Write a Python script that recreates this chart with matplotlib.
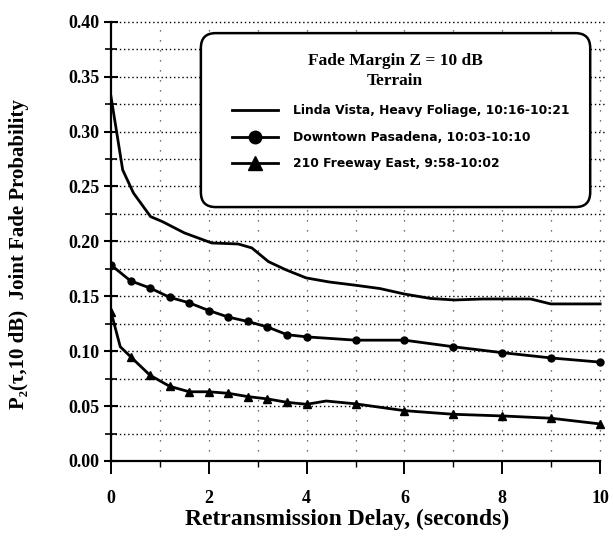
import matplotlib
matplotlib.use("Agg")
import matplotlib.pyplot as plt
from matplotlib.patches import FancyBboxPatch
from matplotlib.ticker import MultipleLocator, FixedLocator

# retransmission delay (s) vs joint fade probability, fade margin 10 dB
linda_x = [0.0, 0.24, 0.46, 0.81, 1.05, 1.5, 2.06, 2.6, 2.88, 3.22, 3.58, 3.99,
           4.46, 5.0, 5.5, 6.0, 6.53, 7.02, 7.6, 8.58, 8.99, 10.0]
linda_y = [0.332, 0.265, 0.244, 0.2225, 0.218, 0.2077, 0.1985, 0.1976, 0.194,
           0.1815, 0.174, 0.1667, 0.163, 0.160, 0.157, 0.152, 0.148, 0.1466,
           0.1475, 0.1475, 0.143, 0.143]

pasadena_x = [0.0, 0.4, 0.8, 1.2, 1.6, 2.0, 2.4, 2.8, 3.2, 3.6, 4.0,
              5.0, 6.0, 7.0, 8.0, 9.0, 10.0]
pasadena_y = [0.1785, 0.164, 0.1575, 0.149, 0.144, 0.137, 0.131, 0.127, 0.122,
              0.115, 0.113, 0.110, 0.110, 0.104, 0.0986, 0.0938, 0.090]

freeway_x = [0.0, 0.19, 0.4, 0.8, 1.2, 1.6, 2.0, 2.4, 2.8, 3.2, 3.6, 4.0,
             4.4, 5.0, 6.0, 7.0, 8.0, 9.0, 10.0]
freeway_y = [0.136, 0.104, 0.095, 0.078, 0.068, 0.063, 0.063, 0.0616, 0.0586,
             0.0565, 0.0534, 0.0516, 0.0546, 0.052, 0.0458, 0.0425, 0.041,
             0.0389, 0.0337]
freeway_marks = [0, 2, 3, 4, 5, 6, 7, 8, 9, 10, 11, 13, 14, 15, 16, 17, 18]

labels = ["Linda Vista, Heavy Foliage, 10:16-10:21",
          "Downtown Pasadena, 10:03-10:10",
          "210 Freeway East, 9:58-10:02"]
x_ticks = [0, 2, 4, 6, 8, 10]
y_ticks = [0.00, 0.05, 0.10, 0.15, 0.20, 0.25, 0.30, 0.35, 0.40]

serif = ["Liberation Serif", "DejaVu Serif"]

fig = plt.figure(figsize=(6.13, 5.36), dpi=100)
ax = fig.add_axes([0.181, 0.14, 0.806, 0.8195])

l1, = ax.plot(linda_x, linda_y, color="black", lw=2.0, zorder=4)
l2, = ax.plot(pasadena_x, pasadena_y, color="black", lw=2.0, marker="o",
              ms=5, zorder=4)
l3, = ax.plot(freeway_x, freeway_y, color="black", lw=2.0, marker="^",
              ms=5.5, markevery=freeway_marks, zorder=4)

ax.set_xlim(0, 10.1)
ax.set_ylim(0, 0.40)
ax.xaxis.set_major_locator(FixedLocator(x_ticks))
ax.xaxis.set_minor_locator(FixedLocator([1, 3, 5, 7, 9]))
ax.yaxis.set_major_locator(FixedLocator(y_ticks))
ax.yaxis.set_minor_locator(MultipleLocator(0.025))
ax.set_yticklabels([f"{v:.2f}" for v in y_ticks])

# dotted grid: dense horizontals every 0.025, sparse verticals every second
for k in range(1, 17):
    ax.axhline(k * 0.025, color="black", lw=1.0, ls=(0, (1, 2)), zorder=1,
               clip_on=False)
for xv in range(1, 11):
    ax.axvline(xv, color="0.25", lw=0.9, ls=(0, (1, 7)), zorder=1)

for s in ("top", "right"):
    ax.spines[s].set_visible(False)
for s in ("left", "bottom"):
    ax.spines[s].set_linewidth(1.6)
ax.spines["bottom"].set_bounds(0, 10)

ax.tick_params(axis="y", which="major", direction="inout", length=10,
               width=1.5, pad=3)
ax.tick_params(axis="y", which="minor", direction="inout", length=8, width=1.2)
ax.tick_params(axis="x", which="major", direction="out", length=9,
               width=1.4, pad=12)
ax.tick_params(axis="x", which="minor", direction="out", length=4, width=1.0)
for t in ax.get_xticklabels() + ax.get_yticklabels():
    t.set_family(serif)
    t.set_fontweight("bold")
    t.set_fontsize(13)

ax.set_xlabel("Retransmission Delay, (seconds)", family=serif,
              fontweight="bold", fontsize=17)
ax.set_ylabel("P\u2082(\u03c4,10 dB)  Joint Fade Probability", family=serif,
              fontweight="bold", fontsize=15)
ax.xaxis.set_label_coords(0.478, -0.11)
ax.yaxis.set_label_coords(-0.165, 0.472)

# rounded legend frame
ax_w = fig.get_figwidth() * ax.get_position().width
ax_h = fig.get_figheight() * ax.get_position().height
frame = FancyBboxPatch((0.182, 0.578), 0.788, 0.396,
                       boxstyle="round,pad=0,rounding_size=0.03",
                       mutation_aspect=ax_w / ax_h, transform=ax.transAxes,
                       facecolor="white", edgecolor="black", lw=1.8, zorder=3)
ax.add_patch(frame)
ax.text(0.575, 0.888, "Fade Margin Z = 10 dB\nTerrain", transform=ax.transAxes,
        ha="center", va="center", family=serif, fontweight="bold",
        fontsize=12.5, linespacing=1.3, zorder=5)

leg = ax.legend([l1, l2, l3], labels, loc="upper left",
                bbox_to_anchor=(0.245, 0.812), frameon=False, borderpad=0,
                borderaxespad=0, handlelength=3.7, handletextpad=1.2,
                labelspacing=1.1, markerscale=1.8,
                prop={"family": "DejaVu Sans", "weight": "bold", "size": 8.9})
leg.set_zorder(6)

fig.savefig("out.png", dpi=100)
